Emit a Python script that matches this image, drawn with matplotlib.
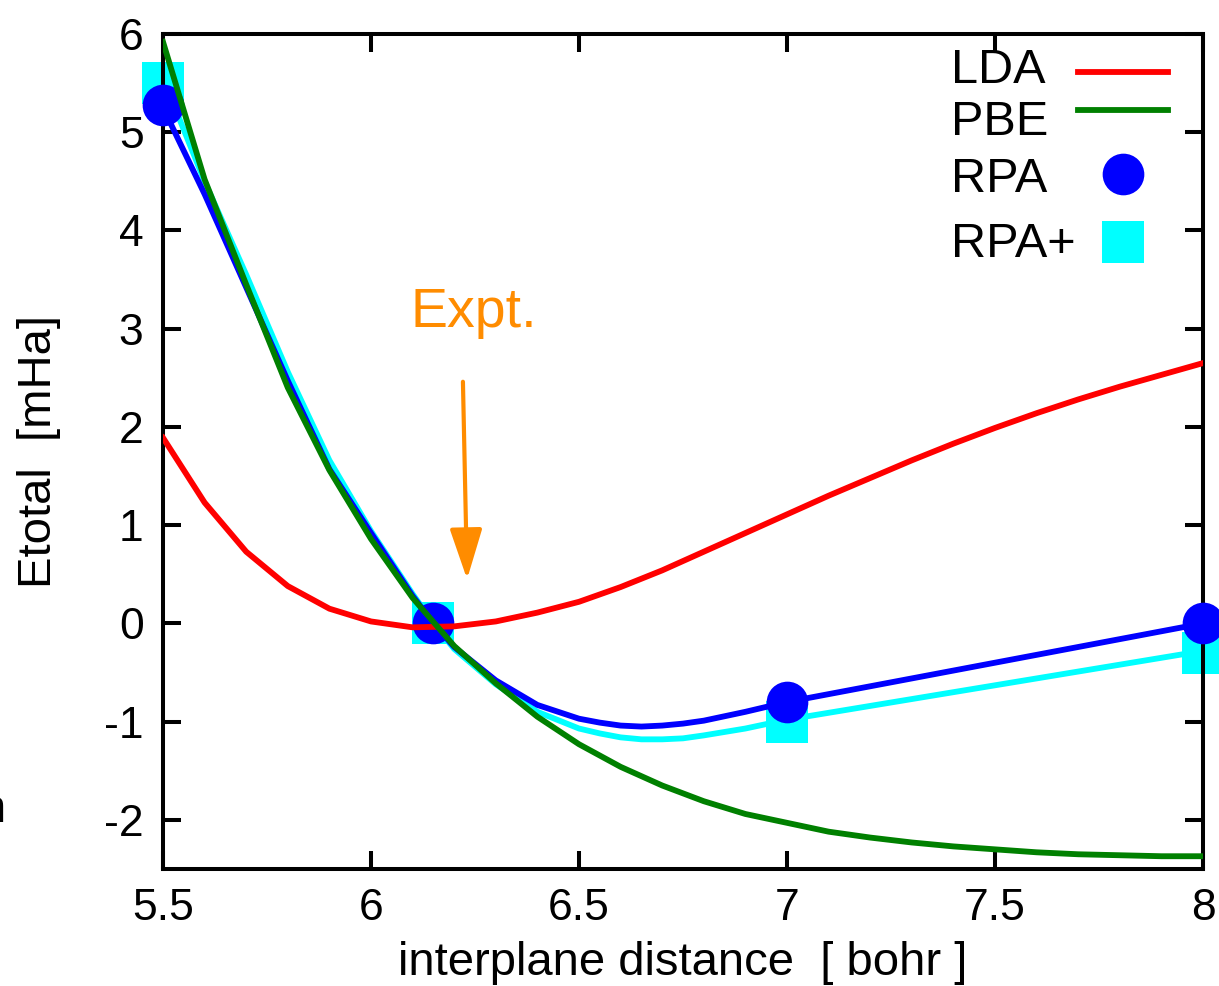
import numpy as np
import matplotlib.pyplot as plt

plt.rcParams['font.family'] = ['Liberation Sans', 'DejaVu Sans']
plt.rcParams['axes.unicode_minus'] = False

# LDA (polyline, 0.1 bohr steps)
lda_x = [5.5, 5.6, 5.7, 5.8, 5.9, 6.0, 6.1, 6.2, 6.3, 6.4, 6.5, 6.6, 6.7,
         6.8, 6.9, 7.0, 7.1, 7.2, 7.3, 7.4, 7.5, 7.6, 7.7, 7.8, 7.9, 8.0]
lda_y = [1.89, 1.23, 0.73, 0.38, 0.15, 0.02, -0.04, -0.03, 0.02, 0.11, 0.22, 0.37, 0.54,
         0.73, 0.92, 1.11, 1.30, 1.48, 1.66, 1.83, 1.99, 2.14, 2.28, 2.41, 2.53, 2.65]

# PBE
pbe_x = lda_x
pbe_y = [5.92, 4.52, 3.45, 2.40, 1.56, 0.86, 0.26, -0.23, -0.61, -0.95, -1.23, -1.46, -1.65,
         -1.81, -1.94, -2.03, -2.12, -2.18, -2.23, -2.27, -2.30, -2.33, -2.35, -2.36, -2.37, -2.37]

# RPA fit curve and points
rpa_fit_x = [5.5, 5.6, 5.7, 5.8, 5.9, 6.0, 6.1, 6.15, 6.2, 6.3, 6.4, 6.5, 6.55, 6.6, 6.65, 6.7,
             6.75, 6.8, 6.9, 7.0, 7.1, 7.2, 7.3, 7.4, 7.5, 7.6, 7.7, 7.8, 7.9, 8.0]
rpa_fit_y = [5.25, 4.37, 3.42, 2.47, 1.57, 0.92, 0.28, 0.0, -0.24, -0.58, -0.83, -0.97, -1.01, -1.04, -1.05, -1.04,
             -1.02, -0.99, -0.90, -0.80, -0.72, -0.64, -0.56, -0.48, -0.40, -0.32, -0.24, -0.16, -0.08, 0.0]
rpa_x = [5.5, 6.15, 7.0, 8.0]
rpa_y = [5.28, 0.0, -0.80, 0.0]

# RPA+ fit curve and points
rpap_fit_x = rpa_fit_x
rpap_fit_y = [5.55, 4.50, 3.55, 2.56, 1.66, 0.94, 0.30, 0.0, -0.26, -0.62, -0.90, -1.07, -1.12, -1.16, -1.18, -1.18,
              -1.17, -1.14, -1.07, -0.98, -0.91, -0.84, -0.77, -0.70, -0.63, -0.56, -0.49, -0.42, -0.35, -0.28]
rpap_x = [5.5, 6.15, 7.0, 8.0]
rpap_y = [5.50, 0.0, -1.00, -0.30]

legend_labels = ['LDA', 'PBE', 'RPA', 'RPA+']

fig = plt.figure(figsize=(12.19, 9.86), dpi=100)
W, H = 1219, 986
x0, y0, aw, ah = 163, 869, 1040, 835   # axes frame in pixels (left, bottom, width, height)
ax = fig.add_axes([x0/W, 1-y0/H, aw/W, ah/H])

lw = 4.2
l_rpap, = ax.plot(rpap_fit_x, rpap_fit_y, color='#00ffff', lw=lw, zorder=2)
m_rpap, = ax.plot(rpap_x, rpap_y, 's', color='#00ffff', ms=30, mew=0, clip_on=False, zorder=2)
l_rpa, = ax.plot(rpa_fit_x, rpa_fit_y, color='#0000ff', lw=lw, zorder=3)
m_rpa, = ax.plot(rpa_x, rpa_y, 'o', color='#0000ff', ms=30, mew=0, clip_on=False, zorder=3)
l_lda, = ax.plot(lda_x, lda_y, color='#ff0000', lw=lw, zorder=4)
l_pbe, = ax.plot(pbe_x, pbe_y, color='#008000', lw=lw, zorder=5)

ax.set_xlim(5.5, 8)
ax.set_ylim(-2.5, 6)
ax.set_xticks([5.5, 6, 6.5, 7, 7.5, 8])
ax.set_xticklabels(['5.5', '6', '6.5', '7', '7.5', '8'])
ax.set_yticks(range(-2, 7))
ax.tick_params(direction='in', length=13, width=2.9, labelsize=32, pad=14,
               top=True, right=True)
for s in ax.spines.values():
    s.set_linewidth(2.9)

ax.set_xlabel('interplane distance  [ bohr ]', fontsize=34, labelpad=8)
ax.set_ylabel('Etotal  [mHa]', fontsize=34, labelpad=31)

# experimental marker
ax.annotate('', xy=(6.231, 0.45), xytext=(6.221, 2.46),
            arrowprops=dict(arrowstyle='-|>,head_length=3.1,head_width=1.0',
                            color='#ff8c00', lw=3.0, shrinkA=0, shrinkB=0))
ax.text(6.094, 3.16, 'Expt.', color='#ff8c00', fontsize=40, va='center', ha='left')

# gnuplot-style key: labels left aligned, keys on the right
handles = [l_lda, l_pbe, m_rpa, m_rpap]
text_base = [83, 135, 192, 257]
key_y = [73, 111, 175, 243]
for lab, hd, tb, ky in zip(legend_labels, handles, text_base, key_y):
    ax.text((951-x0)/aw, (y0-tb)/ah, lab, transform=ax.transAxes,
            fontsize=35, ha='left', va='baseline')
    leg = ax.legend([hd], [''], loc='center', bbox_to_anchor=((1123-x0)/aw, (y0-ky)/ah),
                    frameon=False, fontsize=10, handlelength=6.48, handletextpad=0,
                    borderpad=0, borderaxespad=0, numpoints=1)
    ax.add_artist(leg)

# clipped remnant at the left edge of the original image
fig.text(6/W, 1-822/H, 'n', fontsize=34, ha='right', va='baseline')

fig.savefig('out.png', dpi=100)
